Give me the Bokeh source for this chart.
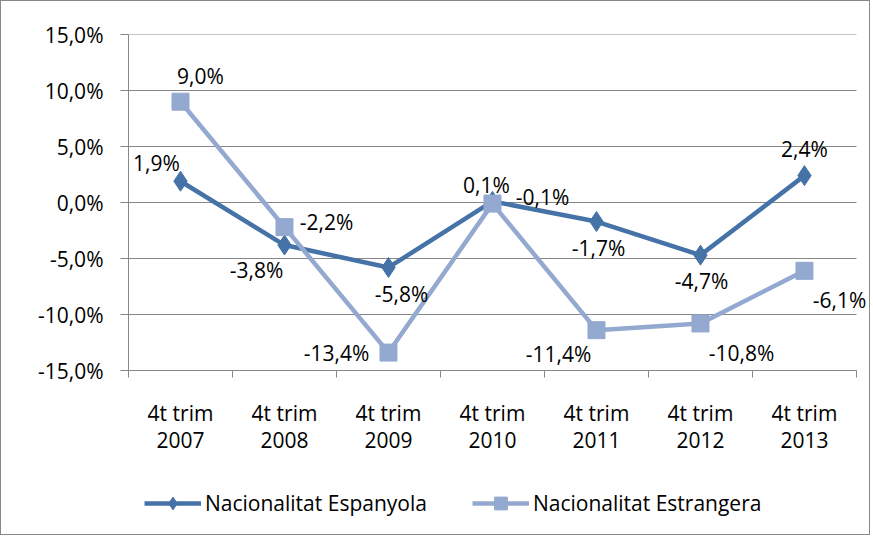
from bokeh.plotting import figure
from bokeh.layouts import column
from bokeh.models import FixedTicker, Range1d, Legend, LegendItem, ColumnDataSource
from bokeh.core.properties import value
from bokeh.embed import file_html
from bokeh.resources import INLINE

categories = ["4t trim\n2007", "4t trim\n2008", "4t trim\n2009", "4t trim\n2010",
              "4t trim\n2011", "4t trim\n2012", "4t trim\n2013"]
espanyola = [1.9, -3.8, -5.8, 0.1, -1.7, -4.7, 2.4]
estrangera = [9.0, -2.2, -13.4, -0.1, -11.4, -10.8, -6.1]
y_ticks = [-15, -10, -5, 0, 5, 10, 15]
series_names = ["Nacionalitat Espanyola", "Nacionalitat Estrangera"]

# label offsets (style, screen px)
esp_dx = [-24, -28, 13, -6, 2, 1, 0]
esp_dy = [-18, 25, 27, -16, 26, 26, -27]
est_dx = [20, 42, -52, 50, -38, 41, 35]
est_dy = [-26, -5, 0, -7, 24, 30, 29]

C_ESP = "#4572A7"
C_EST = "#94A9D0"
GRID = "#878787"
FONT = "Open Sans"
FS = "21px"

def fmt(v):
    return f"{v:.1f}%".replace(".", ",")

xs = [i + 1 for i in range(len(categories))]
x_lo = xs[0] - 0.5
x_hi = xs[-1] + 0.5

p = figure(width=870, height=455, output_backend="svg", toolbar_location=None,
           x_range=Range1d(x_lo, x_hi + 0.135), y_range=Range1d(-15, 15),
           min_border_left=127, min_border_right=1, min_border_top=33, min_border_bottom=84)
p.outline_line_color = None
p.background_fill_color = "white"
p.border_fill_color = "white"
p.styles = {"border": "1px solid #888888", "border-bottom": "none", "box-sizing": "border-box"}

# axes
p.xaxis.ticker = FixedTicker(ticks=xs, minor_ticks=[x - 0.5 for x in xs] + [x_hi])
p.xaxis.major_label_overrides = {x: c for x, c in zip(xs, categories)}
p.xaxis.bounds = (x_lo, x_hi)
p.xaxis.major_tick_out = 0
p.xaxis.major_tick_in = 0
p.xaxis.minor_tick_out = 7
p.xaxis.minor_tick_in = 0
p.xaxis.minor_tick_line_color = GRID
p.xaxis.axis_line_color = GRID
p.xaxis.major_label_standoff = 21
p.xaxis.major_label_text_font = FONT
p.xaxis.major_label_text_font_size = FS
p.xaxis.major_label_text_color = "black"
p.xaxis.major_label_text_line_height = 0.98

p.yaxis.ticker = FixedTicker(ticks=y_ticks)
p.yaxis.major_label_overrides = {t: fmt(t) for t in y_ticks}
p.yaxis.major_tick_out = 8
p.yaxis.major_tick_in = 0
p.yaxis.minor_tick_out = 0
p.yaxis.minor_tick_in = 0
p.yaxis.major_tick_line_color = GRID
p.yaxis.axis_line_color = GRID
p.yaxis.major_label_standoff = 17
p.yaxis.major_label_text_font = FONT
p.yaxis.major_label_text_font_size = FS
p.yaxis.major_label_text_color = "black"

p.xgrid.grid_line_color = None
p.ygrid.grid_line_color = None
p.segment(x0=[x_lo] * len(y_ticks), x1=[x_hi] * len(y_ticks), y0=y_ticks, y1=y_ticks,
          line_color=GRID, line_width=1)

# series
p.line(xs, espanyola, line_color=C_ESP, line_width=4.5)
p.scatter(xs, espanyola, marker="diamond", size=20, fill_color=C_ESP, line_color=C_ESP)
p.line(xs, estrangera, line_color=C_EST, line_width=4.5)
p.scatter(xs, estrangera, marker="square", size=17, fill_color=C_EST, line_color=C_EST)

src1 = ColumnDataSource(dict(x=xs, y=espanyola, t=[fmt(v) for v in espanyola], dx=esp_dx, dy=esp_dy))
src2 = ColumnDataSource(dict(x=xs, y=estrangera, t=[fmt(v) for v in estrangera], dx=est_dx, dy=est_dy))
for src in (src1, src2):
    p.text(x="x", y="y", text="t", x_offset="dx", y_offset="dy", source=src,
           text_align="center", text_baseline="middle", text_font=value(FONT),
           text_font_size=FS, text_color="black")

# legend strip (separate figure below the chart; its renderers lie outside its ranges)
q = figure(width=870, height=80, output_backend="svg", toolbar_location=None,
           x_axis_location=None, y_axis_location=None, min_border=0,
           x_range=Range1d(100, 101), y_range=Range1d(100, 101))
q.outline_line_color = None
q.xgrid.grid_line_color = None
q.ygrid.grid_line_color = None
q.styles = {"border": "1px solid #888888", "border-top": "none", "box-sizing": "border-box"}
ql1 = q.line(xs, espanyola, line_color=C_ESP, line_width=4.5)
qm1 = q.scatter(xs, espanyola, marker="diamond", fill_color=C_ESP, line_color=C_ESP)
ql2 = q.line(xs, estrangera, line_color=C_EST, line_width=4.5)
qm2 = q.scatter(xs, estrangera, marker="square", fill_color=C_EST, line_color=C_EST)

legend = Legend(items=[LegendItem(label=series_names[0], renderers=[ql1, qm1]),
                       LegendItem(label=series_names[1], renderers=[ql2, qm2])],
                location=(16, 16), orientation="horizontal")
legend.border_line_color = None
legend.background_fill_alpha = 0
legend.padding = 0
legend.margin = 0
legend.spacing = 45
legend.glyph_width = 57
legend.glyph_height = 32
legend.label_height = 30
legend.label_standoff = 4
legend.label_text_font = FONT
legend.label_text_font_size = FS
legend.label_text_color = "black"
q.add_layout(legend, "center")

layout = column(p, q, spacing=0)
open("out.html", "w").write(file_html(layout, INLINE))
